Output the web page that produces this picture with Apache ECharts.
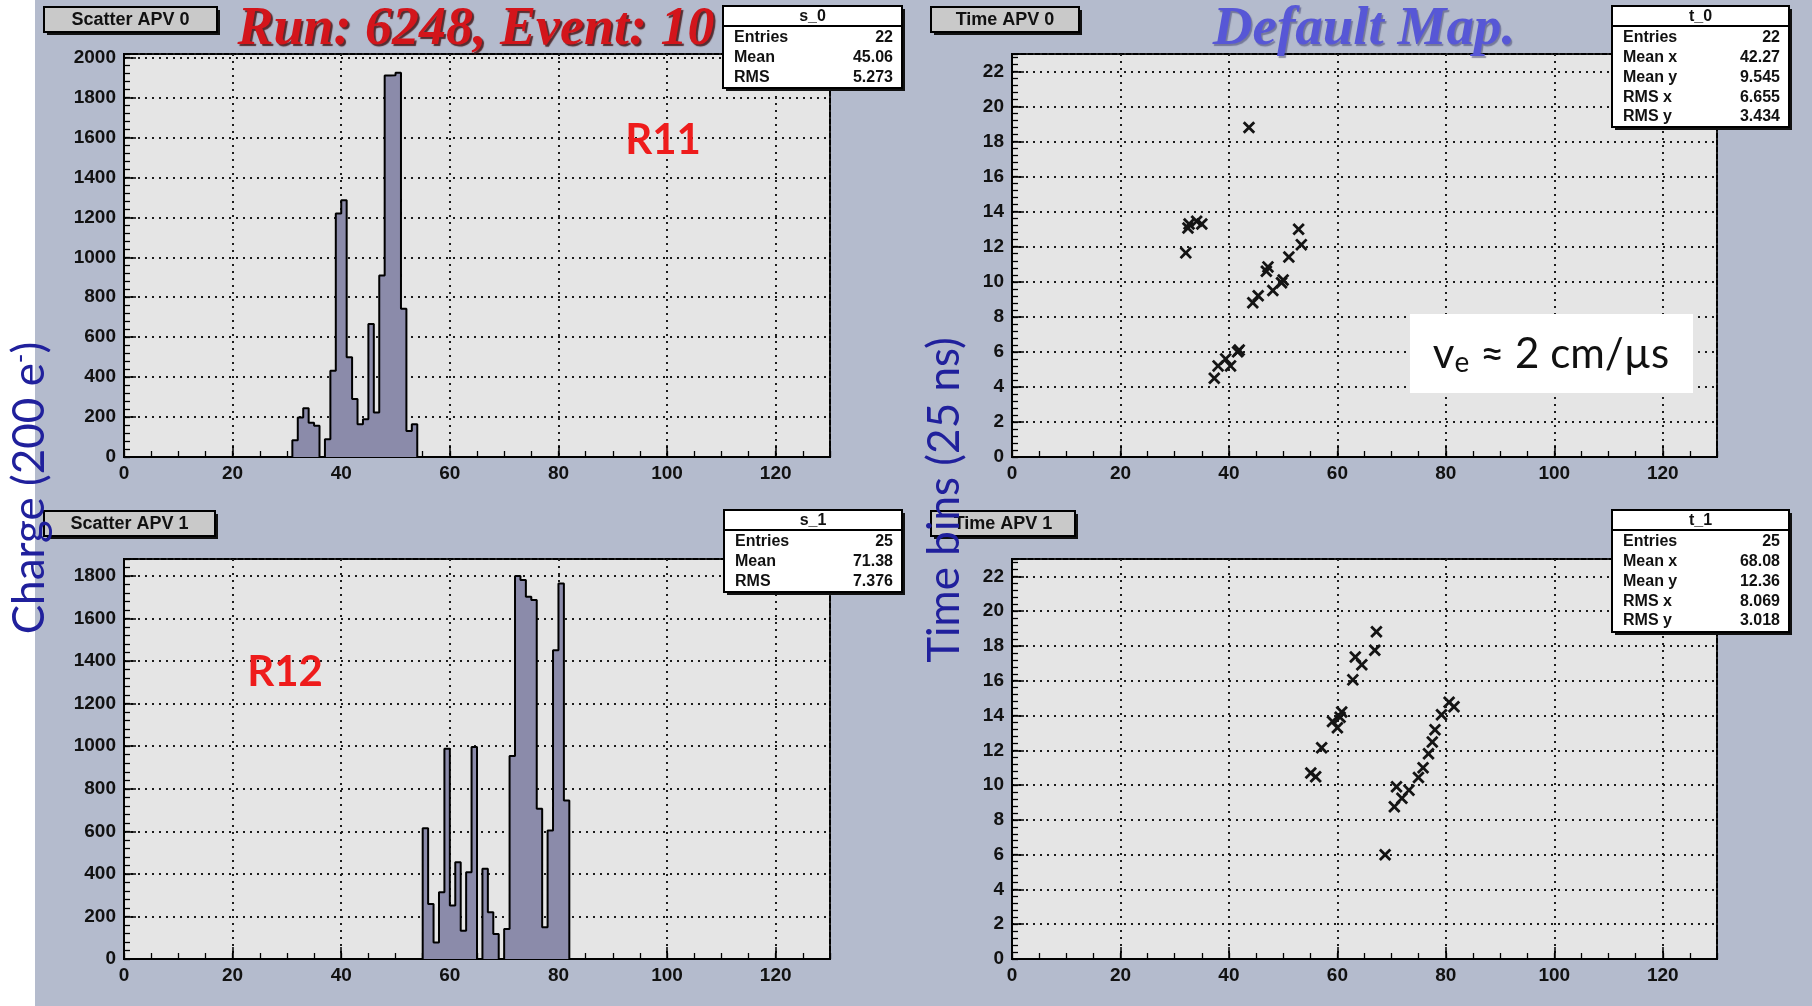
<!DOCTYPE html>
<html>
<head>
<meta charset="utf-8">
<script src="https://cdn.jsdelivr.net/npm/echarts@6/dist/echarts.min.js"></script>
<style>
  html, body { margin: 0; padding: 0; background: #ffffff; }
  #chart { width: 1812px; height: 1006px; }
</style>
</head>
<body>
<div id="chart"></div>
<script>
// ---- Strip charge histograms (bin low edge = strip number, charge in 200 e-) ----
const apv0Strips = [31, 32, 33, 34, 35, 36, 37, 38, 39, 40, 41, 42, 43, 44, 45, 46, 47, 48, 49, 50, 51, 52, 53];
const apv0Charge = [84, 198, 244, 172, 156, 0, 89, 432, 1219, 1286, 499, 290, 164, 189, 666, 223, 909, 1910, 1912, 1924, 742, 130, 164];

const apv1Strips = [55, 56, 57, 58, 59, 60, 61, 62, 63, 64, 65, 66, 67, 68, 69, 70, 71, 72, 73, 74, 75, 76, 77, 78, 79, 80, 81];
const apv1Charge = [615, 259, 78, 314, 988, 251, 455, 133, 408, 996, 0, 424, 220, 118, 0, 141, 954, 1800, 1781, 1702, 1687, 706, 149, 604, 1451, 1765, 745];

// ---- Hit time (25 ns bins) vs strip ----
const apv0HitStrip = [32.05, 32.45, 32.65, 34.05, 35.0, 43.7, 37.3, 38.0, 39.4, 40.3, 41.6, 41.9, 44.4, 45.4, 46.9, 47.2, 48.1, 49.7, 50.0, 51.05, 52.85, 53.35];
const apv0HitTime  = [11.65, 13.07, 13.3, 13.45, 13.3, 18.8, 4.5, 5.2, 5.6, 5.2, 6.0, 6.1, 8.8, 9.2, 10.6, 10.85, 9.5, 9.95, 10.1, 11.42, 13.0, 12.12];

const apv1HitStrip = [55.1, 56.0, 57.1, 59.1, 60.0, 60.5, 60.8, 62.85, 63.3, 64.5, 66.9, 67.2, 68.8, 70.5, 70.9, 71.9, 73.2, 74.95, 75.8, 76.8, 77.5, 78.0, 79.2, 80.6, 81.5];
const apv1HitTime  = [10.7, 10.48, 12.15, 13.66, 13.3, 13.9, 14.2, 16.05, 17.37, 16.92, 17.75, 18.82, 6.0, 8.76, 9.9, 9.24, 9.71, 10.44, 11.0, 11.8, 12.48, 13.18, 14.04, 14.76, 14.51];

// ---- Axis ranges and tick steps ----
const stripRange = [0, 130];
const stripStep = 20, stripMinor = 5;
const charge0Range = [0, 2018];
const charge1Range = [0, 1880];
const chargeStep = 200, chargeMinor = 40;
const timeRange = [0, 23];
const timeStep = 2, timeMinor = 0.4;

// ---- Stat boxes ----
const s0Stats = [['Entries', '22'], ['Mean', '45.06'], ['RMS', '5.273']];
const t0Stats = [['Entries', '22'], ['Mean x', '42.27'], ['Mean y', '9.545'], ['RMS x', '6.655'], ['RMS y', '3.434']];
const s1Stats = [['Entries', '25'], ['Mean', '71.38'], ['RMS', '7.376']];
const t1Stats = [['Entries', '25'], ['Mean x', '68.08'], ['Mean y', '12.36'], ['RMS x', '8.069'], ['RMS y', '3.018']];

const chart = echarts.init(document.getElementById('chart'), null, { renderer: 'canvas' });

const AX_FONT = { color: '#111', fontFamily: 'Liberation Sans', fontWeight: 'bold', fontSize: 19 };
const GRID_LINE = { color: '#1c1c1c', width: 2, type: [2, 5] };
const TOP_Z = 50;

function stepData(strips, counts) {
  const d = [[strips[0], 0]];
  strips.forEach((s, i) => d.push([s, counts[i]]));
  d.push([strips[strips.length - 1] + 1, 0]);
  return d;
}
function zip(a, b) { return a.map((v, i) => [v, b[i]]); }

function majorAxis(dim, grid, range, step) {
  const isX = dim === 'x';
  return {
    type: 'value', gridIndex: grid, min: range[0], max: range[1], interval: step,
    position: isX ? 'bottom' : 'left',
    axisLine: { show: true, onZero: false, lineStyle: { color: '#000', width: 2 } },
    axisTick: { show: true, inside: true, length: 12, lineStyle: { color: '#000', width: 1.5 } },
    axisLabel: Object.assign({
      margin: isX ? 7 : 8,
      formatter: v => (Math.abs(v / step - Math.round(v / step)) < 1e-6 ? String(Math.round(v)) : '')
    }, AX_FONT),
    splitLine: { show: true, lineStyle: GRID_LINE }
  };
}
function minorAxis(dim, grid, range, step) {
  return {
    type: 'value', gridIndex: grid, min: range[0], max: range[1], interval: step,
    position: dim === 'x' ? 'bottom' : 'left',
    axisLine: { show: false, onZero: false },
    axisTick: { show: true, inside: true, length: 6, lineStyle: { color: '#000', width: 1.3 } },
    axisLabel: { show: false },
    splitLine: { show: false }
  };
}

const gridStyle = { show: true, backgroundColor: '#e5e5e5', borderColor: '#000', borderWidth: 2 };
const grids = [
  Object.assign({ left: 124, top: 54, width: 706, height: 403 }, gridStyle),
  Object.assign({ left: 1012, top: 54, width: 705, height: 403 }, gridStyle),
  Object.assign({ left: 124, top: 559, width: 706, height: 400 }, gridStyle),
  Object.assign({ left: 1012, top: 559, width: 705, height: 400 }, gridStyle)
];

const xAxes = [], yAxes = [];
const yRanges = [[charge0Range, chargeStep, chargeMinor], [timeRange, timeStep, timeMinor],
                 [charge1Range, chargeStep, chargeMinor], [timeRange, timeStep, timeMinor]];
for (let g = 0; g < 4; g++) {
  xAxes.push(majorAxis('x', g, stripRange, stripStep));
  xAxes.push(minorAxis('x', g, stripRange, stripMinor));
  const [yr, ys, ym] = yRanges[g];
  yAxes.push(majorAxis('y', g, yr, ys));
  yAxes.push(minorAxis('y', g, yr, ym));
}

const CROSS = 'path://M1.9,0 L6,4.1 L10.1,0 L12,1.9 L7.9,6 L12,10.1 L10.1,12 L6,7.9 L1.9,12 L0,10.1 L4.1,6 L0,1.9 Z';

function histSeries(g, strips, counts) {
  return {
    type: 'line', xAxisIndex: 2 * g, yAxisIndex: 2 * g, data: stepData(strips, counts),
    step: 'end', symbol: 'none', silent: true,
    lineStyle: { color: '#000', width: 2 },
    areaStyle: { color: '#8b8baa', opacity: 1 },
    z: 3
  };
}
function hitSeries(g, xs, ys) {
  return {
    type: 'scatter', xAxisIndex: 2 * g, yAxisIndex: 2 * g, data: zip(xs, ys),
    symbol: CROSS, symbolSize: 12.5, silent: true,
    itemStyle: { color: '#141414', opacity: 1 },
    z: 3
  };
}

// ---- ROOT-style pads: title boxes and stat boxes ----
function titleBox(x, y, w, h, text) {
  return {
    type: 'group', x: x, y: y,
    children: [
      { type: 'rect', z: TOP_Z, shape: { x: 3, y: 3, width: w, height: h }, style: { fill: '#111' } },
      { type: 'rect', z: TOP_Z, z2: 1, shape: { x: 0, y: 0, width: w, height: h }, style: { fill: '#c9c9c9', stroke: '#000', lineWidth: 2 } },
      { type: 'text', z: TOP_Z, z2: 2, x: w / 2, y: h / 2 + 1, style: { text: text, align: 'center', verticalAlign: 'middle',
        fill: '#111', fontFamily: 'Liberation Sans', fontWeight: 'bold', fontSize: 18 } }
    ]
  };
}
function statBox(x, y, w, h, title, rows) {
  const font = { fill: '#111', fontFamily: 'Liberation Sans', fontWeight: 'bold', fontSize: 16, verticalAlign: 'middle' };
  const ch = [
    { type: 'rect', z: TOP_Z, shape: { x: 3, y: 3, width: w, height: h }, style: { fill: '#111' } },
    { type: 'rect', z: TOP_Z, z2: 1, shape: { x: 0, y: 0, width: w, height: h }, style: { fill: '#fff', stroke: '#000', lineWidth: 2 } },
    { type: 'rect', z: TOP_Z, z2: 2, shape: { x: 0, y: 0, width: w, height: 20 }, style: { fill: '#fff', stroke: '#000', lineWidth: 2 } },
    { type: 'text', z: TOP_Z, z2: 3, x: w / 2, y: 11, style: Object.assign({ text: title, align: 'center' }, font) }
  ];
  rows.forEach((r, i) => {
    const ry = 32 + i * 19.7;
    ch.push({ type: 'text', z: TOP_Z, z2: 3, x: 11, y: ry, style: Object.assign({ text: r[0], align: 'left' }, font) });
    ch.push({ type: 'text', z: TOP_Z, z2: 3, x: w - 9, y: ry, style: Object.assign({ text: r[1], align: 'right' }, font) });
  });
  return { type: 'group', x: x, y: y, children: ch };
}

const graphics = [
  { type: 'rect', shape: { x: 0, y: 0, width: 35, height: 1006 }, style: { fill: '#ffffff' }, z: 1 },

  titleBox(44, 7, 173, 25, 'Scatter APV 0'),
  titleBox(931, 7, 148, 25, 'Time APV 0'),
  titleBox(44, 511, 171, 25, 'Scatter APV 1'),
  titleBox(931, 511, 144, 25, 'Time APV 1'),

  statBox(723, 6, 179, 82, 's_0', s0Stats),
  statBox(1612, 6, 177, 121, 't_0', t0Stats),
  statBox(724, 510, 178, 82, 's_1', s1Stats),
  statBox(1612, 510, 177, 122, 't_1', t1Stats),

  { type: 'text', x: 476, y: 30, z: TOP_Z + 5, style: { text: 'Run: 6248, Event: 10', align: 'center', verticalAlign: 'middle',
    fill: '#d3151b', fontFamily: 'Liberation Serif', fontStyle: 'italic', fontWeight: 'bold', fontSize: 54,
    textShadowColor: 'rgba(60,10,10,0.8)', textShadowOffsetX: 2, textShadowOffsetY: 2, textShadowBlur: 1 } },
  { type: 'text', x: 1364, y: 30, z: TOP_Z + 5, style: { text: 'Default Map.', align: 'center', verticalAlign: 'middle',
    fill: '#5757d6', fontFamily: 'Liberation Serif', fontStyle: 'italic', fontWeight: 'bold', fontSize: 55,
    textShadowColor: 'rgba(40,40,90,0.45)', textShadowOffsetX: 1.5, textShadowOffsetY: 1.5, textShadowBlur: 1 } },

  { type: 'text', x: 663, y: 140, z: TOP_Z + 5, style: { text: 'R11', align: 'center', verticalAlign: 'middle',
    fill: '#ee1c1c', fontFamily: 'Lato', fontWeight: 'bold', fontSize: 42 } },
  { type: 'text', x: 285, y: 672, z: TOP_Z + 5, style: { text: 'R12', align: 'center', verticalAlign: 'middle',
    fill: '#ee1c1c', fontFamily: 'Lato', fontWeight: 'bold', fontSize: 42 } },

  { type: 'rect', z: TOP_Z + 4, shape: { x: 1410, y: 314, width: 283, height: 79 }, style: { fill: '#ffffff' } },
  { type: 'text', x: 1551, y: 354, z: TOP_Z + 5, style: {
    text: 'v{sub|e} ≈ 2 cm/µs', align: 'center', verticalAlign: 'middle',
    fill: '#111', fontFamily: 'Lato', fontSize: 42,
    rich: { sub: { fontFamily: 'Lato', fontSize: 28, fill: '#111', verticalAlign: 'bottom', padding: [18, 0, 0, 0] } } } },

  { type: 'text', x: 30, y: 488, rotation: Math.PI / 2, z: TOP_Z + 10, style: {
    text: 'Charge (200 e{sup|-})', align: 'center', verticalAlign: 'middle',
    fill: '#20209c', fontFamily: 'Lato', fontSize: 44,
    rich: { sup: { fontFamily: 'Lato', fontSize: 26, fill: '#20209c', verticalAlign: 'top', padding: [0, 0, 16, 0] } } } },
  { type: 'text', x: 945, y: 500, rotation: Math.PI / 2, z: TOP_Z + 10, style: {
    text: 'Time bins (25 ns)', align: 'center', verticalAlign: 'middle',
    fill: '#20209c', fontFamily: 'Lato', fontSize: 44 } }
];

chart.setOption({
  animation: false,
  backgroundColor: '#b4bbcd',
  grid: grids,
  xAxis: xAxes,
  yAxis: yAxes,
  series: [
    histSeries(0, apv0Strips, apv0Charge),
    hitSeries(1, apv0HitStrip, apv0HitTime),
    histSeries(2, apv1Strips, apv1Charge),
    hitSeries(3, apv1HitStrip, apv1HitTime)
  ],
  graphic: graphics
});
</script>
</body>
</html>
